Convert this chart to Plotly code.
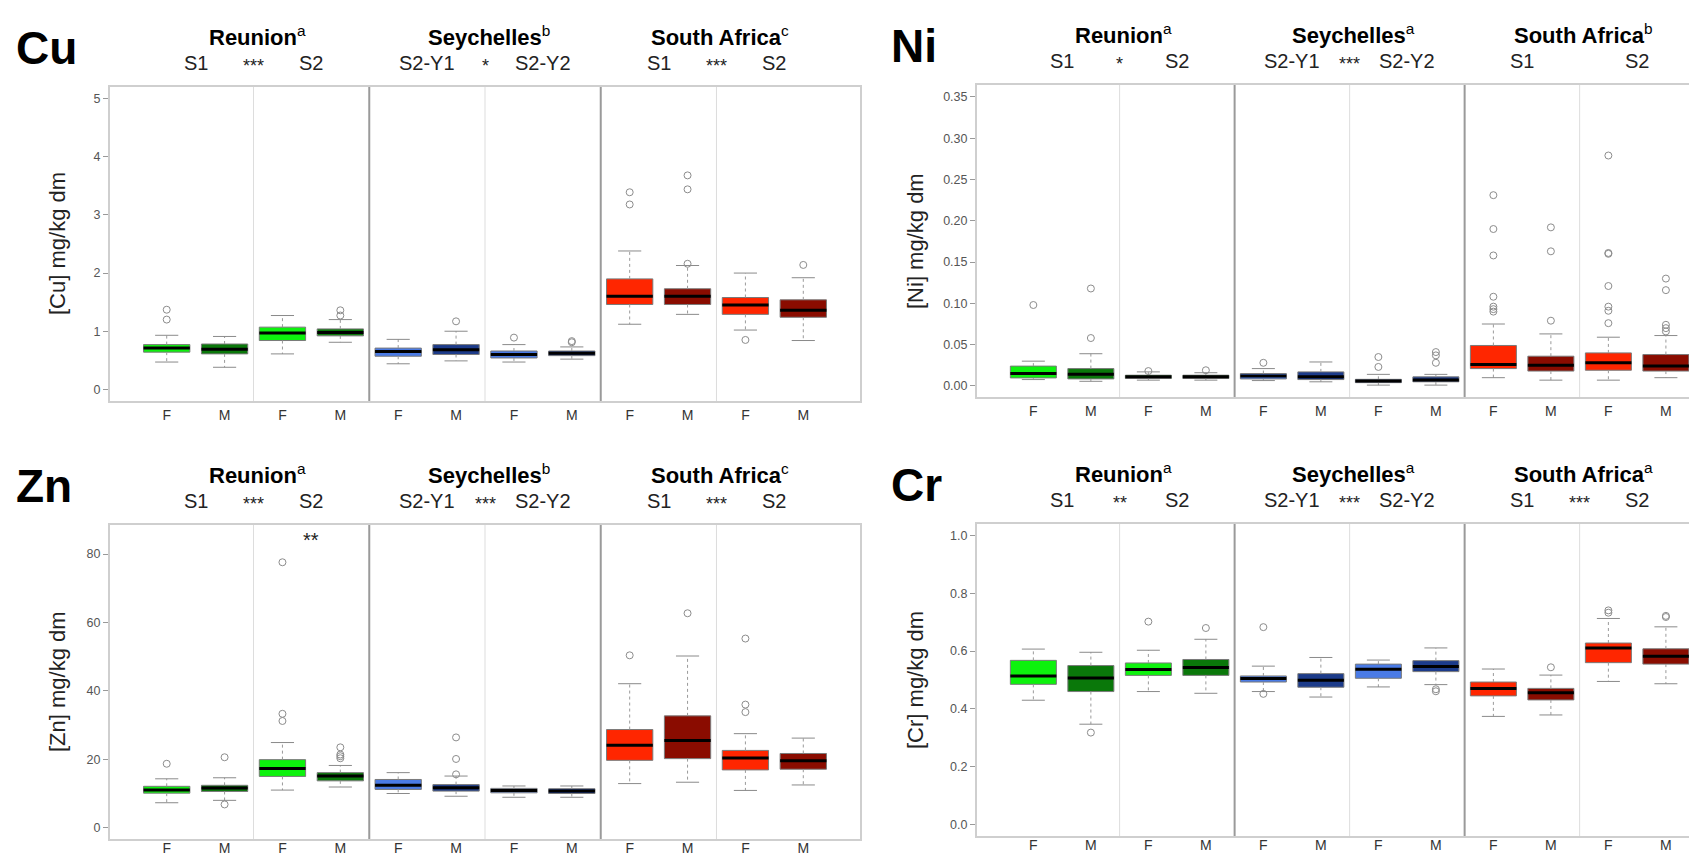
import plotly.graph_objects as go

# ---------------- data ----------------
regions = ["Reunion", "Seychelles", "South Africa"]
season_labels = [["S1", "S2"], ["S2-Y1", "S2-Y2"], ["S1", "S2"]]
sexes = ["F", "M"]
region_fill = [("#0df20d", "#0a780a"), ("#4a7be6", "#1c3b8a"), ("#ff2600", "#8a0c00")]

# box order: Reunion S1 F, S1 M, S2 F, S2 M, Seychelles Y1 F, Y1 M, Y2 F, Y2 M, SA S1 F, S1 M, S2 F, S2 M
cu_low = [0.47, 0.38, 0.61, 0.81, 0.44, 0.49, 0.47, 0.52, 1.12, 1.29, 1.02, 0.84]
cu_q1 = [0.64, 0.61, 0.84, 0.92, 0.57, 0.60, 0.54, 0.58, 1.46, 1.46, 1.29, 1.24]
cu_med = [0.71, 0.69, 0.97, 0.98, 0.65, 0.68, 0.60, 0.62, 1.60, 1.60, 1.45, 1.36]
cu_q3 = [0.77, 0.78, 1.07, 1.04, 0.71, 0.77, 0.66, 0.66, 1.90, 1.73, 1.58, 1.54]
cu_high = [0.93, 0.91, 1.27, 1.20, 0.86, 1.00, 0.77, 0.73, 2.38, 2.13, 2.00, 1.92]
cu_out = [[1.37, 1.20], [], [], [1.36, 1.27], [], [1.17], [0.89], [0.83, 0.81],
          [3.39, 3.18], [3.68, 3.44, 2.16], [0.85], [2.14]]

ni_low = [0.0077, 0.0056, 0.007, 0.007, 0.0065, 0.005, 0.001, 0.001, 0.010, 0.007, 0.007, 0.010]
ni_q1 = [0.0097, 0.0085, 0.009, 0.009, 0.0085, 0.0077, 0.004, 0.005, 0.021, 0.018, 0.019, 0.018]
ni_med = [0.015, 0.014, 0.011, 0.011, 0.012, 0.011, 0.006, 0.0073, 0.026, 0.025, 0.028, 0.024]
ni_q3 = [0.024, 0.021, 0.013, 0.013, 0.015, 0.017, 0.008, 0.011, 0.049, 0.036, 0.040, 0.038]
ni_high = [0.030, 0.039, 0.017, 0.016, 0.021, 0.029, 0.014, 0.014, 0.075, 0.063, 0.059, 0.061]
ni_out = [[0.098], [0.118, 0.058], [0.018], [0.019], [0.028], [], [0.035, 0.023],
          [0.041, 0.037, 0.028], [0.231, 0.190, 0.158, 0.108, 0.096, 0.093, 0.090],
          [0.192, 0.163, 0.079], [0.279, 0.161, 0.160, 0.121, 0.096, 0.091, 0.076],
          [0.130, 0.116, 0.074, 0.070, 0.066]]

zn_low = [7.3, 8.0, 11.0, 11.9, 10.0, 9.2, 8.9, 8.9, 12.9, 13.3, 10.9, 12.5]
zn_q1 = [10.1, 10.6, 15.0, 13.7, 11.2, 10.7, 10.2, 10.0, 19.7, 20.2, 16.9, 17.1]
zn_med = [11.0, 11.6, 17.3, 15.1, 12.4, 11.7, 10.9, 10.7, 24.1, 25.5, 20.4, 19.6]
zn_q3 = [12.1, 12.4, 19.9, 16.1, 14.1, 12.6, 11.5, 11.4, 28.7, 32.7, 22.6, 21.7]
zn_high = [14.3, 14.6, 24.9, 18.2, 16.1, 15.1, 12.2, 12.2, 42.1, 50.2, 27.5, 26.2]
zn_out = [[18.7], [20.6, 6.8], [77.6, 33.3, 31.2], [23.5, 21.4, 20.9, 20.3], [],
          [26.4, 20.1, 15.6], [], [], [50.4], [62.7], [55.3, 36.0, 33.8], []]

cr_low = [0.430, 0.347, 0.460, 0.454, 0.460, 0.441, 0.476, 0.484, 0.374, 0.379, 0.495, 0.487]
cr_q1 = [0.485, 0.460, 0.516, 0.516, 0.493, 0.475, 0.506, 0.529, 0.445, 0.431, 0.560, 0.555]
cr_med = [0.514, 0.507, 0.536, 0.543, 0.505, 0.499, 0.537, 0.547, 0.471, 0.456, 0.611, 0.582]
cr_q3 = [0.568, 0.550, 0.559, 0.571, 0.514, 0.522, 0.555, 0.567, 0.493, 0.471, 0.628, 0.608]
cr_high = [0.607, 0.596, 0.603, 0.641, 0.548, 0.578, 0.569, 0.611, 0.538, 0.517, 0.713, 0.684]
cr_out = [[], [0.318], [0.702], [0.680], [0.683, 0.452], [], [], [0.468, 0.461], [],
          [0.544], [0.741, 0.733], [0.722, 0.718]]

cu_stars = ["***", "*", "***"]
ni_stars = ["*", "***", ""]
zn_stars = ["***", "***", "***"]
cr_stars = ["**", "***", "***"]
cu_letters = ["a", "b", "c"]
ni_letters = ["a", "a", "b"]
zn_letters = ["a", "b", "c"]
cr_letters = ["a", "a", "a"]

# Zn: extra significance mark between sexes in Reunion S2
zn_extra_mark = "**"
zn_extra_pos = 3.5
zn_extra_y = 84

# ---------------- layout geometry ----------------
W, H = 1697, 853
FONT = "Liberation Sans, Arial, sans-serif"
BOXW = 0.8

panels = [
    dict(name="Cu", ax="", stats=(cu_low, cu_q1, cu_med, cu_q3, cu_high, cu_out),
         stars=cu_stars, letters=cu_letters, yrange=[-0.2, 5.2], ticks=[0, 1, 2, 3, 4, 5], fmt="d",
         px=(102, 852), py=(79, 393), xr=[0.02, 12.98], right=False, bottom=False),
    dict(name="Ni", ax="2", stats=(ni_low, ni_q1, ni_med, ni_q3, ni_high, ni_out),
         stars=ni_stars, letters=ni_letters, yrange=[-0.0134, 0.3644],
         ticks=[0, 0.05, 0.10, 0.15, 0.20, 0.25, 0.30, 0.35], fmt=".2f",
         px=(969, 1697), py=(77, 389), xr=[0.02, 12.68], right=True, bottom=False),
    dict(name="Zn", ax="3", stats=(zn_low, zn_q1, zn_med, zn_q3, zn_high, zn_out),
         stars=zn_stars, letters=zn_letters, yrange=[-3.3, 88.5], ticks=[0, 20, 40, 60, 80], fmt="d",
         px=(102, 852), py=(517, 831), xr=[0.02, 12.98], right=False, bottom=True),
    dict(name="Cr", ax="4", stats=(cr_low, cr_q1, cr_med, cr_q3, cr_high, cr_out),
         stars=cr_stars, letters=cr_letters, yrange=[-0.04, 1.04],
         ticks=[0, 0.2, 0.4, 0.6, 0.8, 1.0], fmt=".1f",
         px=(969, 1697), py=(516, 828), xr=[0.02, 12.68], right=True, bottom=True),
]

positions = list(range(1, 13))
fills = []
for reg in region_fill:
    for _season in range(2):
        fills.extend([reg[0], reg[1]])

fig = go.Figure()
annotations = []
shapes = []
layout_axes = {}

for p in panels:
    xa, ya = "x" + p["ax"], "y" + p["ax"]
    lo, q1, md, q3, hi, out = p["stats"]
    # boxes
    for i, pos in enumerate(positions):
        fig.add_trace(go.Box(
            x=[pos], q1=[q1[i]], median=[md[i]], q3=[q3[i]],
            lowerfence=[q1[i]], upperfence=[q3[i]], width=BOXW, whiskerwidth=0,
            fillcolor=fills[i], line=dict(color="#7a7a7a", width=1),
            boxpoints=False, xaxis=xa, yaxis=ya, showlegend=False, hoverinfo="skip"))
    # whiskers (dotted), caps, medians, outliers
    wx, wy, cx, cy, mx, my, ox, oy = [], [], [], [], [], [], [], []
    for i, pos in enumerate(positions):
        wx += [pos, pos, None, pos, pos, None]
        wy += [q3[i], hi[i], None, q1[i], lo[i], None]
        cx += [pos - BOXW / 4, pos + BOXW / 4, None, pos - BOXW / 4, pos + BOXW / 4, None]
        cy += [hi[i], hi[i], None, lo[i], lo[i], None]
        mx += [pos - BOXW / 2, pos + BOXW / 2, None]
        my += [md[i], md[i], None]
        for v in out[i]:
            ox.append(pos)
            oy.append(v)
    fig.add_trace(go.Scatter(x=wx, y=wy, mode="lines", line=dict(color="#9a9a9a", width=1, dash="dot"),
                             xaxis=xa, yaxis=ya, showlegend=False, hoverinfo="skip"))
    fig.add_trace(go.Scatter(x=cx, y=cy, mode="lines", line=dict(color="#8a8a8a", width=1),
                             xaxis=xa, yaxis=ya, showlegend=False, hoverinfo="skip"))
    fig.add_trace(go.Scatter(x=mx, y=my, mode="lines", line=dict(color="black", width=3),
                             xaxis=xa, yaxis=ya, showlegend=False, hoverinfo="skip"))
    fig.add_trace(go.Scatter(x=ox, y=oy, mode="markers",
                             marker=dict(symbol="circle-open", size=7, color="#8c8c8c", line=dict(width=1)),
                             xaxis=xa, yaxis=ya, showlegend=False, hoverinfo="skip"))

    x0, x1 = p["px"]
    ytop, ybot = p["py"]
    xdom = [x0 / W, min(x1 / W, 1.0)]
    ydom = [1 - ybot / H, 1 - ytop / H]
    layout_axes["xaxis" + p["ax"]] = dict(
        domain=xdom, range=p["xr"], anchor=ya, tickmode="array", tickvals=positions,
        ticktext=sexes * 6, ticks="", showgrid=False, zeroline=False, showline=True,
        linecolor="#cfcfcf", linewidth=2, mirror=True,
        tickfont=dict(size=14, color="#333333", family=FONT),
        ticklabelstandoff=(-5 if p["bottom"] else 0))
    layout_axes["yaxis" + p["ax"]] = dict(
        domain=ydom, range=p["yrange"], anchor=xa, tickmode="array", tickvals=p["ticks"],
        tickformat=p["fmt"], ticks="outside", ticklen=5, tickcolor="#999999",
        showgrid=False, zeroline=False, showline=True, linecolor="#cfcfcf", linewidth=2,
        mirror=not p["right"], tickfont=dict(size=12.5, color="#555555", family=FONT))

    # dividers between seasons (light) and regions (dark)
    for r in range(len(regions)):
        base = 4 * r
        shapes.append(dict(type="line", xref=xa, yref=ya + " domain", x0=base + 2.5, x1=base + 2.5,
                           y0=0, y1=1, line=dict(color="#dddddd", width=1)))
        if r < len(regions) - 1:
            shapes.append(dict(type="line", xref=xa, yref=ya + " domain", x0=base + 4.5, x1=base + 4.5,
                               y0=0, y1=1, line=dict(color="#9a9a9a", width=2)))

    # panel label
    annotations.append(dict(text="<b>%s</b>" % p["name"], xref="paper", yref="paper",
                            x=(x0 - (88 if p["right"] else 96)) / W, xanchor="left",
                            y=1 - (ytop - 39) / H, yanchor="middle",
                            showarrow=False, font=dict(size=46, color="black", family=FONT)))
    # y title
    annotations.append(dict(text="[%s] mg/kg dm" % p["name"], xref="paper", yref="paper",
                            x=(x0 - (62 if p["right"] else 53)) / W, xanchor="center",
                            y=1 - (ytop + ybot) / 2 / H, yanchor="middle", textangle=-90,
                            showarrow=False, font=dict(size=22, color="#222222", family=FONT)))
    # region headings + season labels
    for r, reg in enumerate(regions):
        base = 4 * r
        annotations.append(dict(text="<b>%s</b><sup>%s</sup>" % (reg, p["letters"][r]),
                                xref=xa, yref="paper", x=base + 2.5, xshift=4, xanchor="center",
                                y=1 - (ytop - 51) / H, yanchor="middle", showarrow=False,
                                font=dict(size=22, color="black", family=FONT)))
        for s in range(2):
            annotations.append(dict(text=season_labels[r][s], xref=xa, yref="paper",
                                    x=base + 1.5 + 2 * s, xanchor="center",
                                    y=1 - (ytop - 24) / H, yanchor="middle", showarrow=False,
                                    font=dict(size=20, color="#222222", family=FONT)))
        if p["stars"][r]:
            annotations.append(dict(text=p["stars"][r], xref=xa, yref="paper", x=base + 2.5,
                                    xanchor="center", y=1 - (ytop - 24) / H, yanchor="middle",
                                    yshift=-3, showarrow=False,
                                    font=dict(size=18, color="#222222", family=FONT)))
    if p["name"] == "Zn":
        annotations.append(dict(text=zn_extra_mark, xref=xa, yref=ya, x=zn_extra_pos, y=zn_extra_y,
                                xanchor="center", yanchor="middle", showarrow=False,
                                font=dict(size=20, color="#222222", family=FONT)))

fig.update_layout(
    width=W, height=H, margin=dict(l=0, r=0, t=0, b=0),
    paper_bgcolor="white", plot_bgcolor="white",
    font=dict(family=FONT), showlegend=False,
    annotations=annotations, shapes=shapes, **layout_axes)

fig.write_html("out.html")
